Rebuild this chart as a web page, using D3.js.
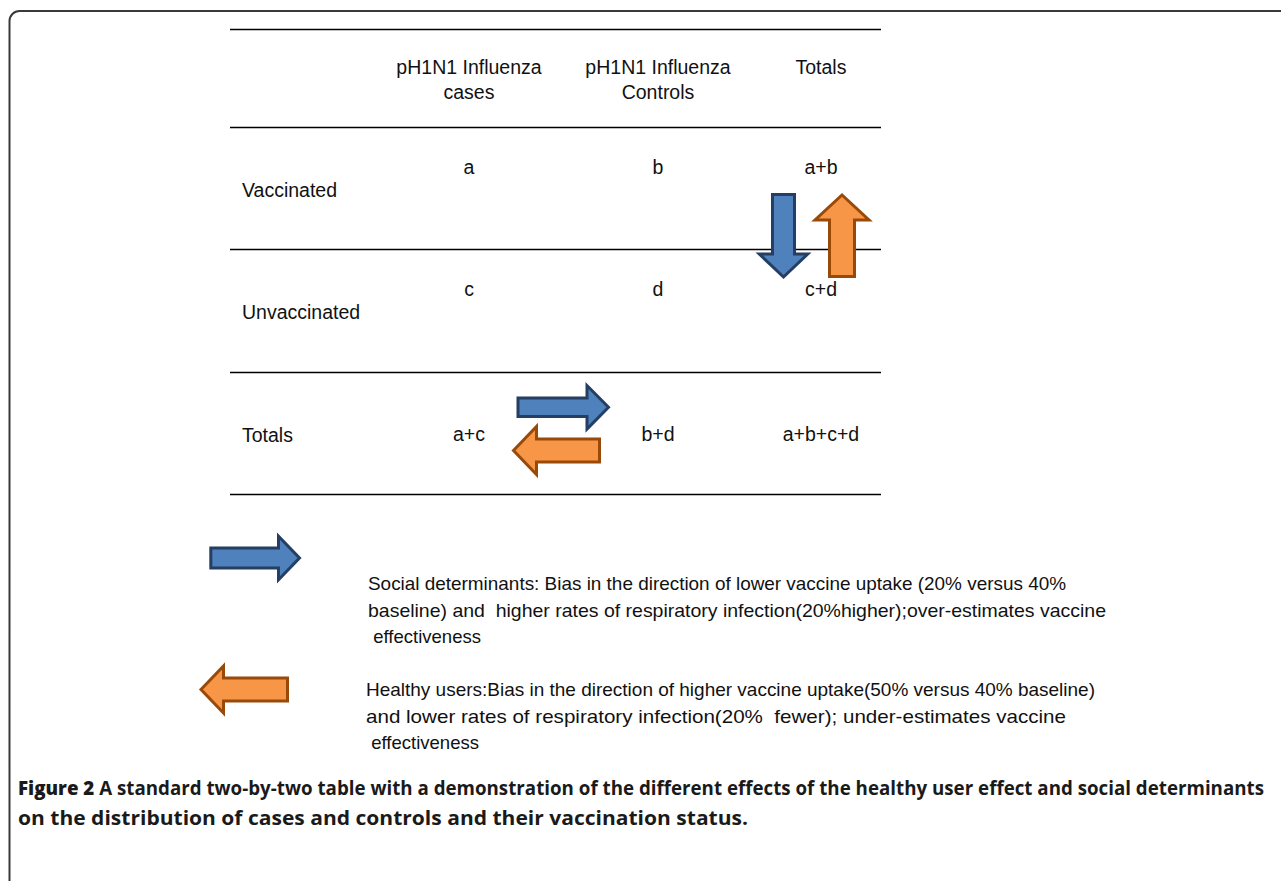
<!DOCTYPE html>
<html>
<head>
<meta charset="utf-8">
<script src="https://cdn.jsdelivr.net/npm/d3@7"></script>
<style>
  html, body { margin: 0; padding: 0; background: #fff; }
  svg { display: block; }
</style>
</head>
<body>
<script>
// ---------------- data ----------------
const columnHeaders = [["pH1N1 Influenza", "cases"], ["pH1N1 Influenza", "Controls"], ["Totals"]];
const rowLabels = ["Vaccinated", "Unvaccinated", "Totals"];
const cellValues = [
  ["a", "b", "a+b"],
  ["c", "d", "c+d"],
  ["a+c", "b+d", "a+b+c+d"]
];
const biasTypes = ["social", "healthy"];
const legendLines = {
  social: [
    "Social determinants: Bias in the direction of lower vaccine uptake (20% versus 40%",
    "baseline) and  higher rates of respiratory infection(20%higher);over-estimates vaccine",
    " effectiveness"
  ],
  healthy: [
    "Healthy users:Bias in the direction of higher vaccine uptake(50% versus 40% baseline)",
    "and lower rates of respiratory infection(20%  fewer); under-estimates vaccine",
    " effectiveness"
  ]
};
const captionBold = "Figure 2";
const captionLines = [
  " A standard two-by-two table with a demonstration of the different effects of the healthy user effect and social determinants",
  "on the distribution of cases and controls and their vaccination status."
];

// ---------------- layout ----------------
const W = 1281, H = 881;
const svg = d3.select("body").append("svg").attr("width", W).attr("height", H);

const colors = {
  social: { fill: "#4F81BD", stroke: "#243F63" },
  healthy: { fill: "#F79646", stroke: "#9A4A08" }
};

// frame (rounded, open to right / bottom)
svg.append("rect")
  .attr("x", 9.5).attr("y", 11).attr("width", 1400).attr("height", 1000)
  .attr("rx", 10).attr("ry", 10)
  .attr("fill", "none").attr("stroke", "#3a3a3a").attr("stroke-width", 2);

// scales
const xCol = d3.scaleOrdinal().domain([0, 1, 2]).range([469, 658, 821]);
const rowEdge = d3.scaleOrdinal().domain([0, 1, 2, 3, 4]).range([29, 127, 249, 372, 494]);
const tableX = d3.scaleLinear().domain([0, 1]).range([230, 881]);
const FONT = "'Liberation Sans', Arial, Helvetica, sans-serif";
const CAPFONT = "'Open Sans', 'Liberation Sans', Arial, sans-serif";

// horizontal rules
svg.append("g").selectAll("line").data(d3.range(5)).join("line")
  .attr("x1", tableX(0)).attr("x2", tableX(1))
  .attr("y1", d => rowEdge(d) + 0.5).attr("y2", d => rowEdge(d) + 0.5)
  .attr("stroke", "#000").attr("stroke-width", 1.3);

// header
const header = svg.append("g").attr("font-family", FONT).attr("font-size", 19.5).attr("fill", "#111");
columnHeaders.forEach((lines, ci) => {
  lines.forEach((t, li) => {
    header.append("text")
      .attr("x", xCol(ci)).attr("y", rowEdge(0) + 45 + li * 25)
      .attr("text-anchor", "middle").text(t);
  });
});

// body
const body = svg.append("g").attr("font-family", FONT).attr("font-size", 19.5).attr("fill", "#111");
rowLabels.forEach((lab, ri) => {
  const top = rowEdge(ri + 1);
  body.append("text").attr("x", 242).attr("y", top + 70).text(lab);
  cellValues[ri].forEach((v, ci) => {
    body.append("text")
      .attr("x", xCol(ci))
      .attr("y", top + (ri < 2 ? 47 : 69))
      .attr("text-anchor", "middle").text(v);
  });
});

// arrow geometry helper
function arrowPoints(tail, tip, shaftW, headW, headL) {
  const dx = tip[0] - tail[0], dy = tip[1] - tail[1];
  const len = Math.hypot(dx, dy);
  const ux = dx / len, uy = dy / len;
  const px = -uy, py = ux;
  const base = [tip[0] - ux * headL, tip[1] - uy * headL];
  const p = (pt, s) => [pt[0] + px * s, pt[1] + py * s];
  return [
    p(tail, shaftW / 2), p(base, shaftW / 2), p(base, headW / 2),
    tip,
    p(base, -headW / 2), p(base, -shaftW / 2), p(tail, -shaftW / 2)
  ];
}

const arrows = [
  { type: "social",  tail: [783.5, 194.5], tip: [783.5, 277],  shaft: 22,   head: 48.5, headL: 23 },
  { type: "healthy", tail: [842, 276.5],   tip: [842, 195],    shaft: 25,   head: 54,   headL: 25 },
  { type: "social",  tail: [518, 407.3],   tip: [608.5, 407.3], shaft: 18.5, head: 43.5, headL: 21.5 },
  { type: "healthy", tail: [599.5, 450.5], tip: [513.5, 450.5], shaft: 23,   head: 48,   headL: 23 },
  { type: "social",  tail: [210.8, 558],   tip: [299.5, 558],  shaft: 20,   head: 43.5, headL: 21 },
  { type: "healthy", tail: [287.5, 689.5], tip: [201, 689.5],  shaft: 23,   head: 47,   headL: 22.5 }
];

svg.append("g").selectAll("polygon").data(arrows).join("polygon")
  .attr("points", d => arrowPoints(d.tail, d.tip, d.shaft, d.head, d.headL).map(q => q.join(",")).join(" "))
  .attr("fill", d => colors[d.type].fill)
  .attr("stroke", d => colors[d.type].stroke)
  .attr("stroke-width", 3)
  .attr("stroke-linejoin", "miter");

// legend text
const legendPos = {
  social:  { x: 368, y: 590, widths: [698, 738, 113] },
  healthy: { x: 366, y: 696, widths: [729, 700, 113] }
};
const leg = svg.append("g").attr("font-family", FONT).attr("font-size", 18.5).attr("fill", "#111");
biasTypes.forEach(k => {
  legendLines[k].forEach((t, i) => {
    leg.append("text")
      .attr("x", legendPos[k].x).attr("y", legendPos[k].y + i * 26.5)
      .attr("textLength", legendPos[k].widths[i])
      .attr("lengthAdjust", "spacingAndGlyphs")
      .attr("xml:space", "preserve")
      .style("white-space", "pre")
      .text(t);
  });
});

// caption (condensed look: stretched slightly vertically)
function captionLine(y) {
  return svg.append("g")
    .attr("transform", `translate(18,${y}) scale(1,1.08)`)
    .attr("font-family", CAPFONT).attr("font-size", 18.2)
    .attr("fill", "#1a1a1a");
}
const c1 = captionLine(795).append("text").attr("x", 0).attr("y", 0)
  .attr("xml:space", "preserve").style("white-space", "pre");
c1.append("tspan").attr("font-weight", 800).text(captionBold);
c1.append("tspan").attr("font-weight", 700).text(captionLines[0]);
c1.attr("textLength", 1246).attr("lengthAdjust", "spacingAndGlyphs");

const c2 = captionLine(825).append("text").attr("x", 0).attr("y", 0)
  .attr("font-weight", 700).text(captionLines[1]);
c2.attr("textLength", 730).attr("lengthAdjust", "spacingAndGlyphs");
</script>
</body>
</html>
